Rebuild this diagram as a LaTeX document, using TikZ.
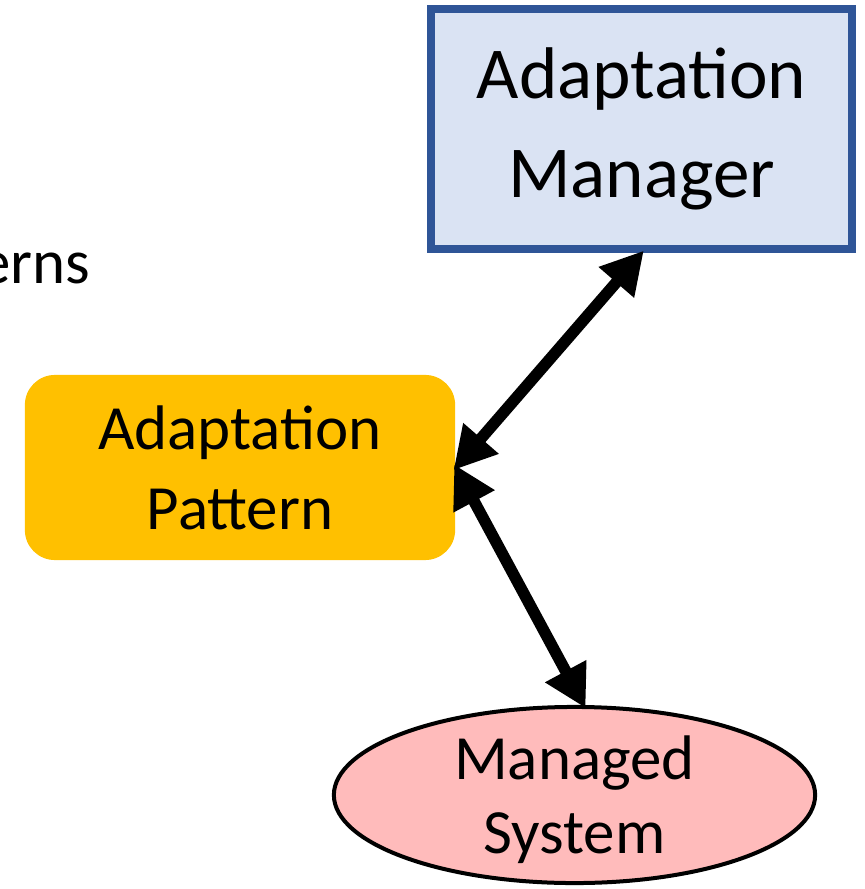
\documentclass[tikz,border=0pt]{standalone}
\usepackage{fontspec}
\setmainfont{Carlito}
\usetikzlibrary{arrows.meta, shapes.geometric}

\definecolor{mgrfill}{HTML}{DAE3F3}
\definecolor{mgrline}{HTML}{2F5597}
\definecolor{patfill}{HTML}{FFC000}
\definecolor{sysfill}{HTML}{FFBBBB}

\begin{document}
\begin{tikzpicture}[x=0.01cm, y=-0.01cm, mgr node/.style={rectangle, draw=mgrline, fill=mgrfill, line width=0.08cm, minimum width=4.21cm, minimum height=2.405cm, align=center, font=\fontsize{20.8}{28.2}\selectfont}, pat node/.style={rectangle, rounded corners=0.3cm, fill=patfill, minimum width=4.3cm, minimum height=1.85cm, align=center, font=\fontsize{17.9}{22.8}\selectfont}, sys node/.style={ellipse, draw, fill=sysfill, line width=0.04cm, minimum width=4.81cm, minimum height=1.76cm, inner sep=0pt, inner ysep=-0.2cm, text depth=0pt, align=center, font=\fontsize{17.9}{21}\selectfont}, link/.style={{Triangle[length=0.42cm, width=0.44cm]}-{Triangle[length=0.42cm, width=0.44cm]}, line width=0.115cm, shorten <=-1pt, shorten >=-1pt}]
\useasboundingbox (0,0) rectangle (864,889);
\node[anchor=base east, inner sep=0pt, font=\fontsize{17.9}{22.8}\selectfont] (cut) at (91,284) {erns};
\node[mgr node] (mgr) at (641.5,129) {Adaptation\\Manager};
\node[pat node] (pat) at (240,467.5) {Adaptation\\Pattern};
\node[sys node] (sys) at (574.5,795) {Managed\\System};
\draw[link] (mgr.south) -- (pat.east);
\draw[link] (pat.east) -- (sys.84);
\end{tikzpicture}
\end{document}
